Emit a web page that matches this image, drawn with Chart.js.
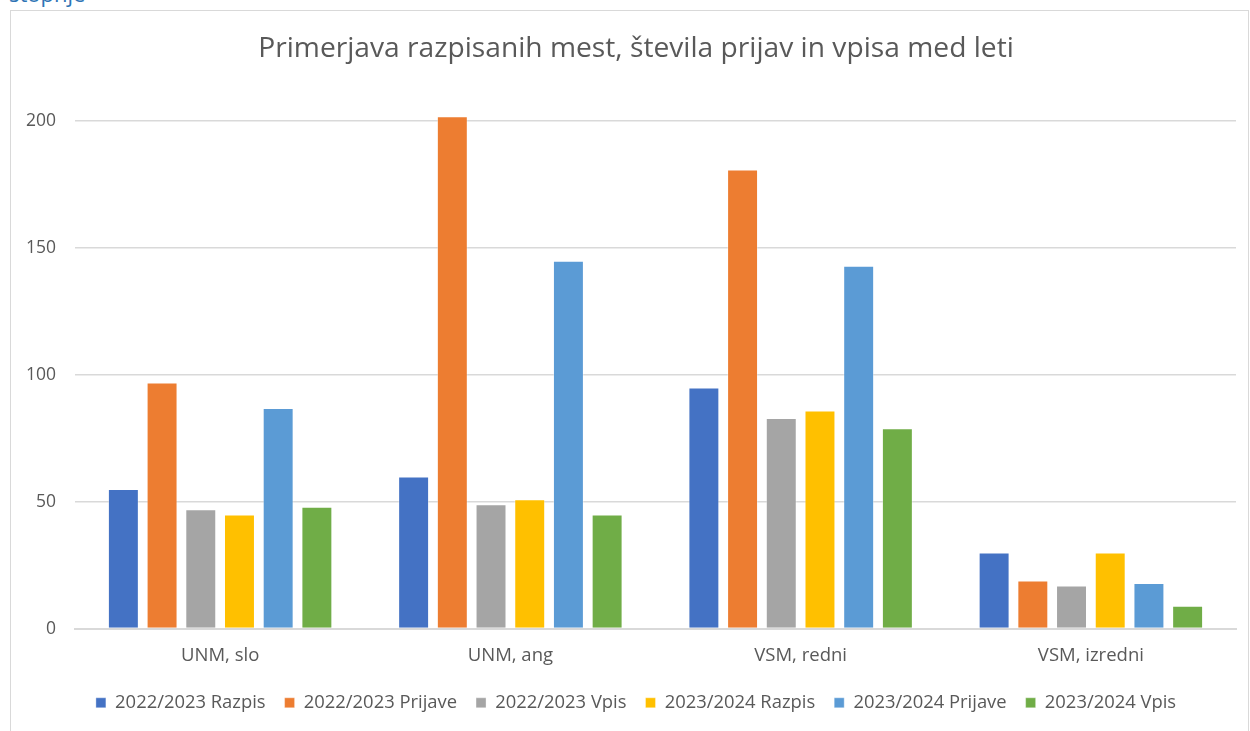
<!DOCTYPE html>
<html>
<head>
<meta charset="utf-8">
<script src="https://cdn.jsdelivr.net/npm/chart.js@4/dist/chart.umd.min.js"></script>
<style>
  html, body { margin: 0; padding: 0; background: #fff; overflow: hidden; }
  body { width: 1250px; height: 731px; position: relative; }
  #heading {
    position: absolute; left: 9px; top: -22px;
    font-family: "Open Sans", sans-serif; font-size: 22px; color: #2e74b5;
  }
  #box {
    position: absolute; left: 10px; top: 10px; width: 1237px; height: 721px;
    border: 1px solid #d9d9d9; border-bottom: none; background: #fff;
  }
</style>
</head>
<body>
<div id="heading">stopnje</div>
<div id="box"><canvas id="chart"></canvas></div>
<script>
const categories = ['UNM, slo', 'UNM, ang', 'VSM, redni', 'VSM, izredni'];
const razpis2223 = [55, 60, 95, 30];
const prijave2223 = [97, 202, 181, 19];
const vpis2223 = [47, 49, 83, 17];
const razpis2324 = [45, 51, 86, 30];
const prijave2324 = [87, 145, 143, 18];
const vpis2324 = [48, 45, 79, 9];
const yTicks = [0, 50, 100, 150, 200];

const textColor = '#595959';
const gridColor = '#d9d9d9';

function series(label, data, color) {
    return {
        label: label,
        data: data,
        backgroundColor: color,
        borderColor: 'rgba(255,255,255,0.35)',
        borderWidth: 1,
        barPercentage: 0.8,
        categoryPercentage: 0.8
    };
}

// the left padding is there to centre the title like the original;
// let the y labels use that space instead of being clipped
const widenYAxis = {
    id: 'widenYAxis',
    afterLayout(chart) {
        chart.scales.y.left = 0;
    }
};

const ctx = document.getElementById('chart').getContext('2d');
new Chart(ctx, {
    type: 'bar',
    data: {
        labels: categories,
        datasets: [
            series('2022/2023 Razpis', razpis2223, '#4472C4'),
            series('2022/2023 Prijave', prijave2223, '#ED7D31'),
            series('2022/2023 Vpis', vpis2223, '#A5A5A5'),
            series('2023/2024 Razpis', razpis2324, '#FFC000'),
            series('2023/2024 Prijave', prijave2324, '#5B9BD5'),
            series('2023/2024 Vpis', vpis2324, '#70AD47')
        ]
    },
    plugins: [widenYAxis],
    options: {
        responsive: true,
        maintainAspectRatio: false,
        animation: false,
        layout: { padding: { left: 25, right: 12, top: 0, bottom: 10 } },
        plugins: {
            title: {
                display: true,
                text: 'Primerjava razpisanih mest, števila prijav in vpisa med leti',
                color: textColor,
                font: { family: 'Open Sans', size: 28.2, weight: 'normal' },
                padding: { top: 21, bottom: 30 }
            },
            legend: {
                position: 'bottom',
                labels: {
                    color: textColor,
                    boxWidth: 10,
                    boxHeight: 10,
                    padding: 19,
                    font: { family: 'Open Sans', size: 18.4 }
                }
            },
            tooltip: { enabled: false }
        },
        scales: {
            x: {
                afterFit: (scale) => { scale.height = 46; },
                grid: { display: false, drawTicks: false },
                border: { display: true, color: gridColor, width: 2 },
                ticks: {
                    color: textColor,
                    padding: 16,
                    font: { family: 'Open Sans', size: 18.5 }
                }
            },
            y: {
                min: 0,
                max: 210,
                afterBuildTicks: (scale) => {
                    scale.ticks = yTicks.map(v => ({ value: v }));
                },
                afterFit: (scale) => { scale.width = 39; },
                grid: { color: gridColor, lineWidth: 1.5, drawTicks: false },
                border: { display: false },
                ticks: {
                    color: textColor,
                    padding: 19,
                    font: { family: 'Open Sans', size: 17.5 }
                }
            }
        }
    }
});
</script>
</body>
</html>
